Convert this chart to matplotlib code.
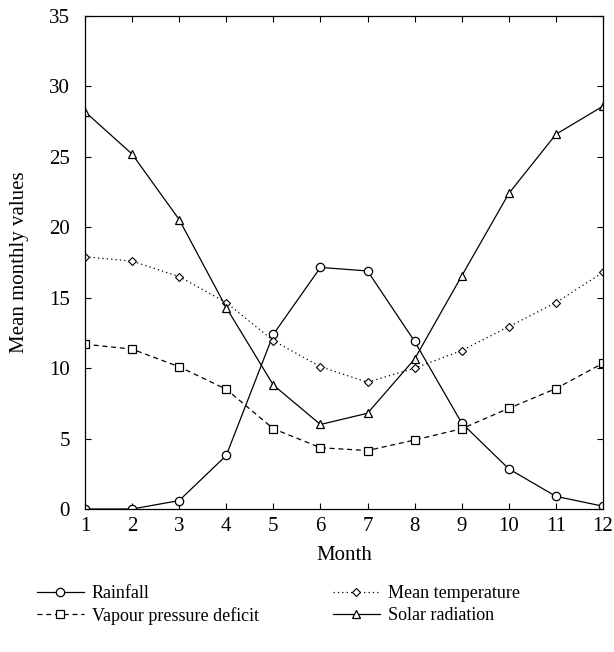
import numpy as np
import matplotlib
matplotlib.use('Agg')
import matplotlib.pyplot as plt

# Werte
months = np.arange(1, 13)
rainfall = [0.0, 0.0, 0.6, 3.8, 12.4, 17.15, 16.9, 11.9, 6.1, 2.85, 0.9, 0.2]
mean_temp = [17.9, 17.6, 16.5, 14.65, 11.95, 10.1, 9.0, 10.0, 11.25, 12.95, 14.65, 16.8]
vpd = [11.7, 11.35, 10.1, 8.5, 5.7, 4.35, 4.15, 4.9, 5.7, 7.15, 8.55, 10.35]
solar = [28.2, 25.2, 20.55, 14.3, 8.8, 6.0, 6.8, 10.65, 16.55, 22.4, 26.6, 28.6]

plt.rcParams['font.family'] = ['Liberation Serif', 'DejaVu Serif']
plt.rcParams['font.size'] = 15

fig = plt.figure(figsize=(6.14, 6.52), dpi=100)
ax = fig.add_axes([0.1384, 0.2193, 0.9821 - 0.1384, 0.9755 - 0.2193])

lw = 0.9
h1, = ax.plot(months, rainfall, '-', color='black', lw=lw, marker='o', ms=6,
              mfc='white', mec='black', mew=0.9, label='Rainfall')
h2, = ax.plot(months, vpd, color='black', lw=lw, ls=(0, (4, 3)), marker='s', ms=5.5,
              mfc='white', mec='black', mew=0.9, label='Vapour pressure deficit')
h3, = ax.plot(months, mean_temp, color='black', lw=lw, ls=(0, (1, 2.5)), marker='D', ms=3.8,
              mfc='white', mec='black', mew=0.8, label='Mean temperature')
h4, = ax.plot(months, solar, '-', color='black', lw=lw, marker='^', ms=6,
              mfc='white', mec='black', mew=0.9, label='Solar radiation')

ax.set_xlim(1, 12)
ax.set_ylim(0, 35)
ax.set_xticks(months)
ax.set_yticks(np.arange(0, 36, 5))
ax.tick_params(direction='in', top=True, right=True, length=4, width=0.8)
ax.tick_params(axis='x', pad=6)
ax.tick_params(axis='y', pad=11)
for s in ax.spines.values():
    s.set_linewidth(0.9)

ax.set_xlabel('Month', labelpad=7)
ax.set_ylabel('Mean monthly values', labelpad=14)

fig.legend(handles=[h1, h2, h3, h4], ncol=2, frameon=False,
           loc='center left', bbox_to_anchor=(0.045, 0.072), fontsize=13,
           handlelength=2.6, handletextpad=0.45, columnspacing=4.1,
           labelspacing=0.25, borderpad=0)

fig.savefig('out.png', dpi=100)
